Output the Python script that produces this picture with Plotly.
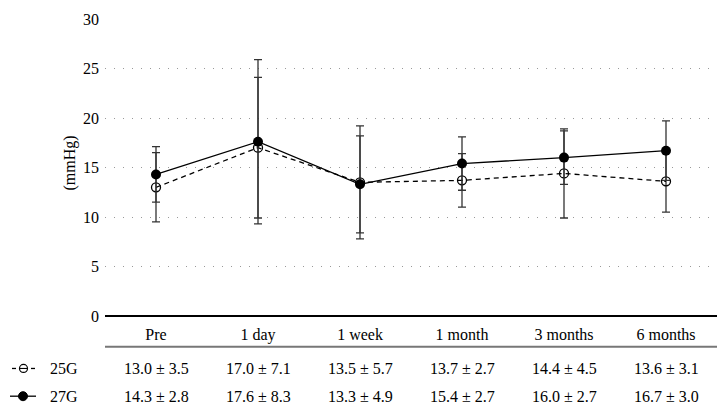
import plotly.graph_objects as go

categories = ["Pre", "1 day", "1 week", "1 month", "3 months", "6 months"]
g25_mean = [13.0, 17.0, 13.5, 13.7, 14.4, 13.6]
g25_sd = [3.5, 7.1, 5.7, 2.7, 4.5, 3.1]
g27_mean = [14.3, 17.6, 13.3, 15.4, 16.0, 16.7]
g27_sd = [2.8, 8.3, 4.9, 2.7, 2.7, 3.0]
series_names = ["25G", "27G"]
y_ticks = [0, 5, 10, 15, 20, 25, 30]

FONT = "Liberation Serif"
FS = 16

# plot area geometry in pixels
L, R, T, B = 105, 11, 16, 97
W, H = 728, 413
PW, PH = W - L - R, H - T - B


def px_x(px):
    return (px - L) / PW


def px_y(py):
    return (H - B - py) / PH


fig = go.Figure()
fig.add_trace(go.Scatter(
    x=categories, y=g25_mean, name=series_names[0], showlegend=False,
    mode="lines+markers",
    line=dict(color="black", width=1.3, dash="5px,4px"),
    marker=dict(symbol="circle-open", size=9, color="black", line=dict(width=1.3)),
    error_y=dict(type="data", array=g25_sd, visible=True, color="#333333", thickness=1.3, width=4),
))
fig.add_trace(go.Scatter(
    x=categories, y=g27_mean, name=series_names[1], showlegend=False,
    mode="lines+markers",
    line=dict(color="black", width=1.3),
    marker=dict(symbol="circle", size=10, color="black"),
    error_y=dict(type="data", array=g27_sd, visible=True, color="#333333", thickness=1.3, width=4),
))

row_y = [px_y(369), px_y(397)]

# table rows
for means, sds, ypos in ((g25_mean, g25_sd, row_y[0]), (g27_mean, g27_sd, row_y[1])):
    for c, m, s in zip(categories, means, sds):
        fig.add_annotation(x=c, y=ypos, xref="x", yref="paper", text=f"{m:.1f} ± {s:.1f}",
                           showarrow=False, font=dict(family=FONT, size=FS, color="black"),
                           yanchor="middle", xanchor="center")

# header separator line
fig.add_shape(type="line", xref="paper", yref="paper", x0=0, x1=1, y0=px_y(347), y1=px_y(347),
              line=dict(color="#777777", width=2))

# manual legend
ly0 = row_y[0]
for x0, x1 in ((12, 16), (31, 35)):
    fig.add_shape(type="line", xref="paper", yref="paper", x0=px_x(x0), x1=px_x(x1), y0=ly0, y1=ly0,
                  line=dict(color="black", width=1.3))
fig.add_shape(type="circle", xref="paper", yref="paper", xsizemode="pixel", ysizemode="pixel",
              xanchor=px_x(23.5), yanchor=ly0, x0=-4, x1=4, y0=-4, y1=4,
              line=dict(color="black", width=1.2), fillcolor="white")
fig.add_shape(type="line", xref="paper", yref="paper", x0=px_x(20), x1=px_x(27), y0=ly0, y1=ly0,
              line=dict(color="black", width=1.1))
ly1 = row_y[1]
fig.add_shape(type="line", xref="paper", yref="paper", x0=px_x(10), x1=px_x(36), y0=ly1, y1=ly1,
              line=dict(color="black", width=1.3))
fig.add_shape(type="circle", xref="paper", yref="paper", xsizemode="pixel", ysizemode="pixel",
              xanchor=px_x(23), yanchor=ly1, x0=-4.5, x1=4.5, y0=-4.5, y1=4.5,
              line=dict(color="black", width=1), fillcolor="black")
for i, name in enumerate(series_names):
    fig.add_annotation(x=px_x(48), y=row_y[i], xref="paper", yref="paper", text=name, showarrow=False,
                       xanchor="left", yanchor="middle", font=dict(family=FONT, size=FS, color="black"))

# y-axis title
fig.add_annotation(x=px_x(70), y=px_y(162), xref="paper", yref="paper", text="(mmHg)", textangle=-90,
                   showarrow=False, xanchor="center", yanchor="middle",
                   font=dict(family=FONT, size=FS, color="black"))

fig.update_layout(
    width=W, height=H,
    margin=dict(l=L, r=R, t=T, b=B),
    paper_bgcolor="white", plot_bgcolor="white",
    font=dict(family=FONT, size=FS, color="black"),
    showlegend=False,
    xaxis=dict(type="category", categoryorder="array", categoryarray=categories,
               range=[-0.5, len(categories) - 0.5],
               showgrid=False, showline=False, zeroline=False, ticks="",
               ticklabelstandoff=7, tickfont=dict(family=FONT, size=FS)),
    yaxis=dict(range=[0, 30], tickvals=y_ticks, showline=False, ticks="",
               showgrid=True, gridcolor="#999999", griddash="1px,8px", gridwidth=1,
               zeroline=True, zerolinecolor="black", zerolinewidth=1.5,
               ticklabelstandoff=5, tickfont=dict(family=FONT, size=FS)),
)

fig.write_html("out.html", config={"displayModeBar": False},
               post_script="document.body.style.margin='0';document.body.style.overflow='hidden';")
